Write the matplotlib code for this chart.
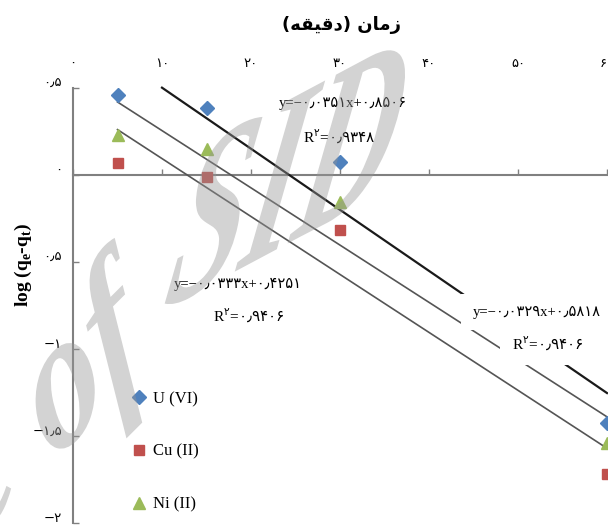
import matplotlib
matplotlib.use('Agg')
import matplotlib.pyplot as plt
from matplotlib.textpath import TextPath, TextToPath
from matplotlib.font_manager import FontProperties
from matplotlib.patches import PathPatch
from matplotlib.transforms import Affine2D, ScaledTranslation

plt.rcParams['mathtext.fontset'] = 'custom'
plt.rcParams['mathtext.rm'] = 'DejaVu Sans'
plt.rcParams['mathtext.bf'] = 'Liberation Serif:bold'

# %% data
time_min = [5, 15, 30, 60]
u_vi = [0.46, 0.38, 0.075, -1.43]
cu_ii = [0.065, -0.015, -0.32, -1.72]
ni_ii = [0.225, 0.145, -0.16, -1.54]

# trend lines: slope, intercept, first x, R2
fit_slope = [-0.0351, -0.0329, -0.0333]
fit_icpt = [0.8506, 0.5818, 0.4251]
fit_x0 = [10, 5, 5]
fit_r2 = [0.9348, 0.9406, 0.9406]

x_ticks = [0, 10, 20, 30, 40, 50, 60]
y_ticks = [0.5, 0, -0.5, -1, -1.5, -2]
y_ticklabels = ['۰٫۵', '۰', '۰٫۵', '−۱', '−۱٫۵', '−۲']

# persian digits
fa_map = str.maketrans('0123456789.-', '۰۱۲۳۴۵۶۷۸۹٫−')
def fa(s):
    return str(s).translate(fa_map)

# title "زمان (دقیقه)" in presentation forms, visual order
title_txt = '(' + '\uFEEA\uFED8\uFEF4\uFED7\uFEA9' + ')' + ' ' + '\uFEE5\uFE8E\uFEE3\uFEAF'

W, H = 608, 525
fig = plt.figure(figsize=(W / 100, H / 100), dpi=100)
ax = fig.add_axes([73 / W, 2.4 / H, 534 / W, 435 / H])
ax.set_facecolor('none')

serif = ['Liberation Serif', 'DejaVu Sans']

ax.plot(time_min, u_vi, linestyle='none', marker='D', ms=7.5, color='#4F81BD', label='U (VI)', clip_on=False, zorder=4)
ax.plot(time_min, cu_ii, linestyle='none', marker='s', ms=7.5, color='#C0504D', label='Cu (II)', clip_on=False, zorder=4)
ax.plot(time_min, ni_ii, linestyle='none', marker='^', ms=8, color='#9BBB59', label='Ni (II)', clip_on=False, zorder=4)

line_cols = ['#1a1a1a', '#555555', '#555555']
line_w = [1.6, 1.2, 1.2]
for i in range(3):
    xs = [fit_x0[i], 60]
    ys = [fit_slope[i] * x + fit_icpt[i] for x in xs]
    ax.plot(xs, ys, color=line_cols[i], lw=line_w[i], zorder=3, clip_on=False)

# equation labels (top line, bottom line, middle line)
eq_pos = [(30.3, 0.41), (18.5, -0.63), (52.1, -0.79)]
r2_pos = [(29.9, 0.22), (19.8, -0.81), (53.4, -0.97)]
eq_idx = [0, 2, 1]
for k, i in enumerate(eq_idx):
    eq = 'y=' + fa('%.4f' % fit_slope[i]) + 'x+' + fa('%.4f' % fit_icpt[i])
    r2 = 'R$^{\\mathrm{۲}}$=$\\mathrm{' + fa('%.4f' % fit_r2[i]) + '}$'
    box = None
    if k == 2:
        box = dict(boxstyle='square,pad=0.8', fc='white', ec='none')
    ax.text(eq_pos[k][0], eq_pos[k][1], eq, ha='center', va='center', fontsize=10.5,
            family=serif, zorder=5, bbox=box)
    ax.text(r2_pos[k][0], r2_pos[k][1], r2, ha='center', va='center', fontsize=11,
            family=serif, zorder=5, bbox=box)

ax.set_xlim(0, 60)
ax.set_ylim(-2, 0.5)
for s in ['top', 'right']:
    ax.spines[s].set_visible(False)
ax.spines['bottom'].set_position(('data', 0))
for s in ['bottom', 'left']:
    ax.spines[s].set_color('#808080')
    ax.spines[s].set_linewidth(1.5)

ax.set_xticks(x_ticks)
ax.set_xticklabels([fa(v) for v in x_ticks], fontsize=9.5, family='DejaVu Sans')
ax.tick_params(axis='x', direction='in', length=4, width=1, color='#808080',
               bottom=True, top=False, labelbottom=False, labeltop=True, pad=13)
ax.set_yticks(y_ticks)
ax.set_yticklabels(y_ticklabels, fontsize=9.5, family='DejaVu Sans')
ax.tick_params(axis='y', direction='in', length=4, width=1, color='#808080', pad=8)
lift = ScaledTranslation(0, 4 / 72, fig.dpi_scale_trans)
for lab in ax.get_yticklabels():
    lab.set_transform(lab.get_transform() + lift)

ax.legend(loc='upper left', bbox_to_anchor=(0.112, 0.3025), frameon=False,
          prop=FontProperties(family='Liberation Serif', size=12),
          handlelength=0.8, handletextpad=0.4, labelspacing=2.2,
          borderpad=0, borderaxespad=0)

fig.text(341 / W, 1 - 25 / H, title_txt, ha='center', va='center', fontsize=13,
         fontweight='bold', family='DejaVu Sans')
fig.text(23 / W, 1 - 265 / H, 'log (q$_{\\mathbf{e}}$-q$_{\\mathbf{t}}$)', rotation=90,
         ha='center', va='center', fontsize=14, fontweight='bold', family='Liberation Serif')

# watermark, drawn in two pieces (the scan is skewed)
wm_prop = FontProperties(family='Liberation Serif', style='italic', weight='bold', size=1)
pre_w = TextToPath().get_text_width_height_descent('Archive ', wm_prop, ismath=False)[0]
wm_a = TextPath((-pre_w, 0), 'Archive of', size=1, prop=wm_prop)
wm_b = TextPath((0, 0), 'SID', size=1, prop=wm_prop)
tr_a = Affine2D.from_values(120, 120, -68, 166, 52, 62)
tr_b = Affine2D.from_values(135, 72, 50, 245, 161, 214)
for p, t in [(wm_a, tr_a), (wm_b, tr_b)]:
    fig.add_artist(PathPatch(p, transform=t, fc=(0.59, 0.59, 0.59), ec='none',
                             alpha=0.42, zorder=10))

fig.savefig('out.png', dpi=100)
